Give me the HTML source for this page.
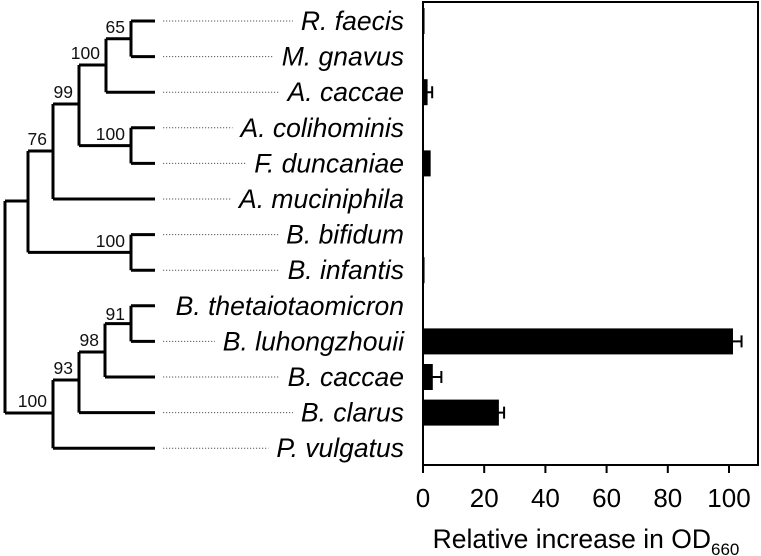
<!DOCTYPE html>
<html><head><meta charset="utf-8"><style>
body{margin:0;background:#fff}
svg{display:block;font-family:"Liberation Sans",Arial,sans-serif}
</style></head><body>
<svg id="fig" width="761" height="556" viewBox="0 0 761 556">
<g id="tree" stroke="#000" stroke-width="3" fill="none"></g>
<g id="boot" font-size="17.5" fill="#111" text-anchor="end"></g>
<g id="labels" font-size="26.5" font-style="italic" fill="#000" text-anchor="end"></g>
<g id="dots" stroke="#555" stroke-width="1" stroke-dasharray="1.2,1.8"></g>
<g id="bars"></g>
<rect x="423" y="2" width="335" height="463" fill="none" stroke="#000" stroke-width="2"/>
<g id="xaxis" font-size="26" text-anchor="middle"></g>
<text x="586" y="548" font-size="26.5" text-anchor="middle">Relative increase in OD<tspan font-size="17" dy="7">660</tspan></text>
</svg>
<script>
const species=["R. faecis","M. gnavus","A. caccae","A. colihominis","F. duncaniae","A. muciniphila","B. bifidum","B. infantis","B. thetaiotaomicron","B. luhongzhouii","B. caccae","B. clarus","P. vulgatus"];
const values=[0.5,0,1.5,0,2.5,0,0,0.5,0,101.3,3.2,24.8,0];
const errors=[0,0,1.5,0,0,0,0,0,0,2.8,2.8,1.7,0];
const ticks=[0,20,40,60,80,100];
const NS="http://www.w3.org/2000/svg";
const x0=423,xs=3.06;
const X=v=>x0+v*xs;
const Y=i=>21+i*35.6;
function mk(tag,attrs,parent){const e=document.createElementNS(NS,tag);for(const k in attrs)e.setAttribute(k,attrs[k]);parent.appendChild(e);return e;}
const tree=document.getElementById('tree');
function path(d,name){const p=mk('path',{d:d},tree);

}
const LX=155;
const leafX=[131,131,106,131,131,53,131,131,131,131,105,79,53];
species.forEach((s,i)=>path(`M${leafX[i]},${Y(i)}H${LX}`,'branch-'+i));
const nodes=[
[131,Y(0),Y(1),(Y(0)+Y(1))/2,106],
[106,(Y(0)+Y(1))/2,Y(2),65,79],
[131,Y(3),Y(4),(Y(3)+Y(4))/2,79],
[79,65,(Y(3)+Y(4))/2,104,53],
[53,104,Y(5),151,28],
[131,Y(6),Y(7),(Y(6)+Y(7))/2,28],
[28,151,(Y(6)+Y(7))/2,201,5],
[131,Y(8),Y(9),(Y(8)+Y(9))/2,105],
[105,(Y(8)+Y(9))/2,Y(10),352,79],
[79,352,Y(11),380,53],
[53,380,Y(12),413,5],
[5,201,413,0,null]];
nodes.forEach((n,i)=>{path(`M${n[0]},${n[1]}V${n[2]}`+(n[4]!=null?`M${n[4]},${n[3]}H${n[0]}`:''),'node-'+i);});
const boots=[["65",125,33],["100",100,59],["100",125,140],["99",73,98],["76",47,145],["100",125,247],["91",125,320],["98",99,346],["93",73,374],["100",47,407]];
const bg=document.getElementById('boot');
boots.forEach(b=>{const t=mk('text',{x:b[1],y:b[2]},bg);t.textContent=b[0];

});
const lg=document.getElementById('labels'),dg=document.getElementById('dots');
species.forEach((s,i)=>{const t=mk('text',{x:404,y:Y(i)+9},lg);t.textContent=s;


const w=t.getComputedTextLength();
const xe=404-w-8;
if(xe>170){const l=mk('line',{x1:163,x2:xe,y1:Y(i),y2:Y(i)},dg);

}});
const bars=document.getElementById('bars');
values.forEach((v,i)=>{if(v<=0)return;
const r=mk('rect',{x:x0,y:Y(i)-13,width:X(v)-x0,height:26,fill:'#000'},bars);


if(errors[i]>0){const e=mk('path',{d:`M${X(v-errors[i]*0.3)},${Y(i)}H${X(v+errors[i])}M${X(v+errors[i])},${Y(i)-6}V${Y(i)+6}`,stroke:'#000','stroke-width':2,fill:'none'},bars);

}});
const xa=document.getElementById('xaxis');
ticks.forEach(t=>{const l=mk('line',{x1:X(t),x2:X(t),y1:465,y2:473,stroke:'#000','stroke-width':2},xa);


const tx=mk('text',{x:X(t),y:507},xa);tx.textContent=t;

});
</script>
</body></html>
